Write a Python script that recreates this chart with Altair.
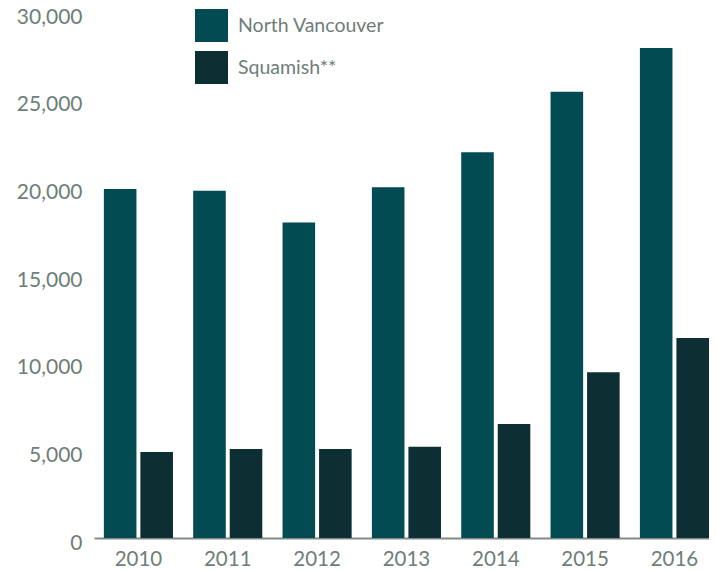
import altair as alt
import pandas as pd

years = ["2010", "2011", "2012", "2013", "2014", "2015", "2016"]
north_vancouver = [19900, 19800, 18000, 20000, 22000, 25450, 27950]
squamish = [4900, 5070, 5070, 5200, 6500, 9450, 11400]
series_names = ["North Vancouver", "Squamish**"]
series_colors = ["#024B52", "#0D2E33"]
y_ticks = [0, 5000, 10000, 15000, 20000, 25000, 30000]

rows = []
for i, yr in enumerate(years):
    rows.append({"year": yr, "series": series_names[0], "value": north_vancouver[i]})
    rows.append({"year": yr, "series": series_names[1], "value": squamish[i]})
df = pd.DataFrame(rows)

text_color = "#6E7E78"
font = "Lato"

chart = alt.Chart(df).mark_bar().encode(
    x=alt.X(
        "year:N", sort=years, title=None,
        scale=alt.Scale(paddingInner=0.2265, paddingOuter=0.0552, align=1),
        axis=alt.Axis(labelAngle=0, labelFont=font, labelFontSize=20.5, labelColor=text_color,
                      labelPadding=11, ticks=False, tickSize=0, domainColor="#7F8C86",
                      domainWidth=2, grid=False),
    ),
    xOffset=alt.XOffset("series:N", sort=series_names,
                        scale=alt.Scale(paddingInner=0.108, paddingOuter=0)),
    y=alt.Y(
        "value:Q", title=None,
        scale=alt.Scale(domain=[0, 30000], nice=False),
        axis=alt.Axis(values=y_ticks, format=",.0f", labelFont=font, labelFontSize=21,
                      labelColor=text_color, labelPadding=12, labelOffset=5, ticks=False,
                      tickSize=0, domain=False, grid=False),
    ),
    color=alt.Color(
        "series:N", sort=series_names,
        scale=alt.Scale(domain=series_names, range=series_colors),
        legend=alt.Legend(title=None, orient="none", legendX=101, legendY=-3, padding=0,
                          symbolType="square", symbolSize=1089, symbolStrokeWidth=0,
                          labelFont=font, labelFontSize=19.5, labelColor=text_color,
                          labelOffset=10, rowPadding=9, labelLimit=300),
    ),
).properties(
    width=615, height=526,
    padding={"left": 86, "top": 4, "right": 0, "bottom": 34},
    autosize=alt.AutoSizeParams(type="none"),
).configure_view(strokeWidth=0)

chart.save("out.html", embed_options={"renderer": "svg", "actions": False})
